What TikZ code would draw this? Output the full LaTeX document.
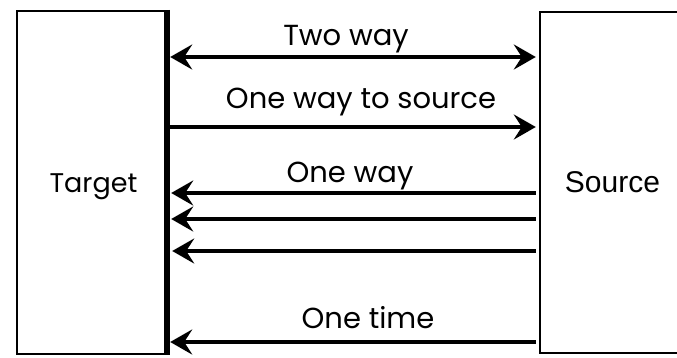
\documentclass[tikz,border=0pt]{standalone}
\usepackage{fontspec}
\setmainfont{Poppins}
\newfontfamily\srcfont{Liberation Sans}
\usetikzlibrary{arrows.meta}
\begin{document}
\begin{tikzpicture}[x=1pt,y=-1pt,
  box/.style={draw,line width=2.4pt,inner sep=0pt},
  tip/.tip={Stealth[length=22pt,width=25pt,inset=8pt]},
  conn/.style={line width=4.8pt,-tip},
  lbl/.style={font=\fontsize{29}{32}\selectfont,inner sep=0pt,anchor=base}]
\useasboundingbox (0,0) rectangle (677,357);
\fill[white] (0,0) rectangle (677,357);
\node[box,minimum width=149pt,minimum height=343pt] (tgt) at (91.5,182.5) {};
\node[box,minimum width=150pt,minimum height=341pt] (src) at (615,182.5) {};
\draw[line width=6pt] (tgt.north east) -- (tgt.south east);
\node[lbl,font=\fontsize{27}{30}\selectfont] (tl) at (93.5,192) {Target};
\node[lbl,font=\fontsize{30}{32}\selectfont\srcfont] (sl) at (612.5,192) {Source};
\draw[conn,tip-tip] ([xshift=3pt]tgt.east |- 0,57) -- ([xshift=-3pt]src.west |- 0,57);
\draw[conn] ([xshift=3pt]tgt.east |- 0,127) -- ([xshift=-3pt]src.west |- 0,127);
\draw[conn] ([xshift=-3pt]src.west |- 0,193) -- ([xshift=4pt]tgt.east |- 0,193);
\draw[conn] ([xshift=-3pt]src.west |- 0,219) -- ([xshift=4pt]tgt.east |- 0,219);
\draw[conn] ([xshift=-3pt]src.west |- 0,251) -- ([xshift=5pt]tgt.east |- 0,251);
\draw[conn] ([xshift=-3pt]src.west |- 0,342) -- ([xshift=3pt]tgt.east |- 0,342);
\node[lbl] (l1) at (346,45) {Two way};
\node[lbl] (l2) at (361,108) {One way to source};
\node[lbl] (l3) at (350,182) {One way};
\node[lbl] (l4) at (368,328) {One time};
\end{tikzpicture}
\end{document}
